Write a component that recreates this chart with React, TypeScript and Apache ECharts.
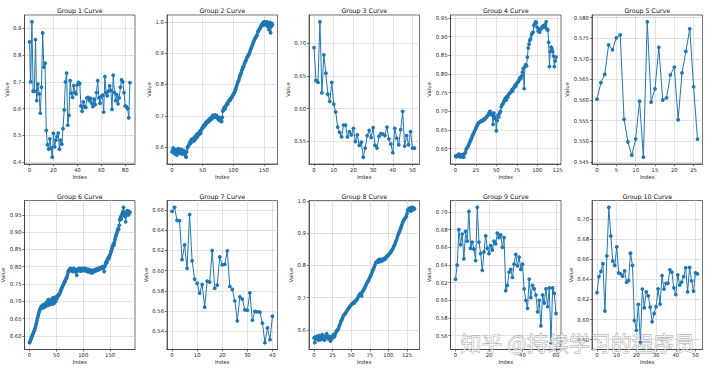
import React, { useEffect, useRef } from "react";
import * as echarts from "echarts";

const titles = [
  "Group 1 Curve", "Group 2 Curve", "Group 3 Curve", "Group 4 Curve", "Group 5 Curve",
  "Group 6 Curve", "Group 7 Curve", "Group 8 Curve", "Group 9 Curve", "Group 10 Curve",
];

const group1 = [
  0.85, 0.7, 0.925, 0.665, 0.665, 0.858, 0.63, 0.692, 0.655, 0.583, 0.68, 0.883, 0.755, 0.77, 0.518,
  0.465, 0.448, 0.487, 0.452, 0.418, 0.507, 0.457, 0.482, 0.495, 0.508, 0.448, 0.482, 0.467, 0.525,
  0.595, 0.7, 0.733, 0.538, 0.575, 0.705, 0.657, 0.642, 0.686, 0.66, 0.655, 0.689, 0.698, 0.694, 0.61,
  0.59, 0.625, 0.607, 0.605, 0.64, 0.642, 0.63, 0.638, 0.62, 0.608, 0.635, 0.615, 0.66, 0.705, 0.64,
  0.62, 0.645, 0.65, 0.587, 0.72, 0.66, 0.648, 0.665, 0.685, 0.668, 0.597, 0.725, 0.66, 0.63, 0.652,
  0.618, 0.64, 0.68, 0.707, 0.7, 0.66, 0.61, 0.607, 0.6, 0.565, 0.697,
];

const group2 = [
  0.585, 0.59, 0.598, 0.582, 0.587, 0.578, 0.592, 0.585, 0.575, 0.588, 0.595, 0.583, 0.59, 0.58, 0.586,
  0.593, 0.585, 0.578, 0.583, 0.59, 0.586, 0.58, 0.572, 0.568, 0.585,
  0.598, 0.602, 0.605, 0.61, 0.615, 0.612, 0.62, 0.625, 0.618, 0.622, 0.628, 0.62, 0.632, 0.625, 0.635,
  0.64, 0.632, 0.638, 0.645, 0.64, 0.648, 0.652, 0.645, 0.655, 0.66,
  0.662, 0.668, 0.665, 0.672, 0.67, 0.678, 0.675, 0.68, 0.684, 0.68, 0.686, 0.69, 0.685, 0.692, 0.695,
  0.69, 0.698, 0.702, 0.697, 0.7, 0.695, 0.703, 0.698, 0.7, 0.695,
  0.69, 0.688, 0.695, 0.685, 0.692, 0.688, 0.682, 0.695, 0.715, 0.72,
  0.725, 0.728, 0.722, 0.732, 0.735, 0.74, 0.738, 0.745, 0.748, 0.752, 0.75, 0.755, 0.758, 0.76, 0.765,
  0.768, 0.772, 0.775, 0.78,
  0.785, 0.792, 0.798, 0.805, 0.81, 0.815, 0.822, 0.828, 0.832, 0.838, 0.845, 0.85, 0.855, 0.858, 0.865,
  0.87, 0.875, 0.878, 0.884, 0.888, 0.892, 0.895, 0.898, 0.903, 0.91, 0.915, 0.92, 0.925, 0.93, 0.935,
  0.94, 0.945, 0.948, 0.952, 0.955, 0.958,
  0.968, 0.97, 0.975, 0.978, 0.98, 0.985, 0.99, 0.988, 0.995, 0.998, 0.99, 1.0, 0.995, 0.998, 0.99,
  1.0, 0.985, 0.995, 0.975, 0.99, 0.998, 0.965, 0.985, 0.995, 0.99,
];

const group3 = [
  0.693, 0.643, 0.64, 0.7325, 0.624, 0.682, 0.654, 0.622, 0.611, 0.64, 0.607, 0.595, 0.572, 0.564,
  0.557, 0.575, 0.575, 0.557, 0.565, 0.56, 0.57, 0.55, 0.56, 0.544, 0.549, 0.526, 0.54, 0.559, 0.567,
  0.556, 0.571, 0.544, 0.54, 0.558, 0.562, 0.561, 0.559, 0.572, 0.554, 0.546, 0.533, 0.57, 0.555,
  0.545, 0.568, 0.596, 0.543, 0.559, 0.545, 0.565, 0.54, 0.54,
];

const group4 = [
  0.58, 0.578, 0.582, 0.58, 0.585, 0.579, 0.583, 0.578, 0.584, 0.58, 0.577, 0.586,
  0.59, 0.598, 0.602, 0.605, 0.61, 0.615, 0.62, 0.625, 0.63, 0.636, 0.64, 0.645, 0.65,
  0.655, 0.66, 0.665, 0.668, 0.67, 0.672, 0.674, 0.673, 0.676, 0.678, 0.677, 0.68, 0.682, 0.685, 0.688,
  0.69, 0.695, 0.7, 0.698, 0.692, 0.69, 0.665, 0.695, 0.685, 0.68, 0.648, 0.675,
  0.69, 0.685, 0.695, 0.7, 0.712, 0.718, 0.72, 0.725, 0.73, 0.735, 0.73, 0.74, 0.738, 0.745,
  0.748, 0.75, 0.752, 0.758, 0.755, 0.762, 0.765, 0.77, 0.768, 0.775, 0.778, 0.78, 0.785, 0.79, 0.788,
  0.795, 0.805, 0.815,
  0.761,
  0.82, 0.825, 0.822, 0.845, 0.87, 0.88, 0.89, 0.895, 0.905, 0.91, 0.912, 0.93, 0.935, 0.94, 0.938,
  0.925, 0.915, 0.918, 0.912, 0.92, 0.922, 0.925, 0.928, 0.93, 0.926, 0.932, 0.94, 0.92, 0.918,
  0.885, 0.82, 0.86, 0.872, 0.868, 0.86, 0.848, 0.82, 0.835, 0.845,
];

const group5 = [
  0.5602, 0.5642, 0.5662, 0.5734, 0.5722, 0.5751, 0.5758, 0.5553, 0.5498, 0.5466, 0.5505, 0.5597,
  0.5461, 0.579, 0.5595, 0.5627, 0.5728, 0.56, 0.5605, 0.5661, 0.568, 0.5552, 0.5666, 0.5718, 0.5773,
  0.5632, 0.5505,
];

const group6 = [
  0.58, 0.584, 0.588, 0.592, 0.596, 0.6, 0.604, 0.608, 0.612, 0.616, 0.62, 0.625, 0.632, 0.638, 0.645,
  0.652, 0.658, 0.664, 0.67, 0.675, 0.678, 0.682, 0.685, 0.68, 0.688,
  0.686, 0.69, 0.682, 0.688, 0.692, 0.685, 0.695, 0.69, 0.698, 0.688, 0.705, 0.695, 0.69, 0.7, 0.693,
  0.702, 0.697, 0.708, 0.692, 0.7, 0.71, 0.695, 0.705, 0.712, 0.7,
  0.712, 0.708, 0.715, 0.718, 0.716, 0.72, 0.722, 0.725, 0.73, 0.735, 0.738, 0.742, 0.745, 0.748, 0.752,
  0.755, 0.758, 0.762, 0.765, 0.768, 0.772, 0.778, 0.785, 0.79, 0.788,
  0.792, 0.795, 0.79, 0.788, 0.793, 0.79, 0.786, 0.795, 0.79, 0.788, 0.792, 0.785, 0.79, 0.775, 0.788,
  0.792, 0.79, 0.795, 0.788, 0.79, 0.793, 0.787, 0.795, 0.79, 0.792,
  0.795, 0.79, 0.792, 0.788, 0.795, 0.79, 0.793, 0.788, 0.79, 0.785, 0.792, 0.788, 0.79, 0.786, 0.783,
  0.79, 0.785, 0.782, 0.788, 0.785, 0.79, 0.787, 0.79, 0.792, 0.788,
  0.79, 0.793, 0.79, 0.795, 0.792, 0.796, 0.793, 0.797, 0.795, 0.798, 0.796, 0.8, 0.795, 0.798, 0.786,
  0.8, 0.805, 0.81, 0.815, 0.812, 0.82, 0.825, 0.822, 0.83, 0.828,
  0.835, 0.84, 0.845, 0.85, 0.855, 0.86, 0.865, 0.862, 0.87, 0.878, 0.885, 0.89, 0.895, 0.9, 0.905,
  0.91, 0.908, 0.92, 0.935, 0.94, 0.945, 0.938, 0.95, 0.955, 0.96,
  0.972, 0.958, 0.95, 0.945, 0.93, 0.948, 0.955, 0.962, 0.958, 0.95, 0.96, 0.955, 0.958,
];

const group7 = [
  0.6587, 0.6627, 0.6497, 0.6494, 0.6109, 0.6255, 0.6023, 0.6554, 0.6096, 0.5917, 0.5874, 0.5778,
  0.5864, 0.5639, 0.5897, 0.5887, 0.6199, 0.5824, 0.5857, 0.6136, 0.6057, 0.6063, 0.6196, 0.5844,
  0.5814, 0.5702, 0.5503, 0.5741, 0.5718, 0.5612, 0.5609, 0.5781, 0.551, 0.5596, 0.5592, 0.5589,
  0.548, 0.5287, 0.5433, 0.5317, 0.5549,
];

const group8 = [
  0.575, 0.56, 0.578, 0.572, 0.58, 0.575, 0.568, 0.582, 0.576, 0.57, 0.578, 0.585, 0.572, 0.58, 0.568,
  0.575, 0.582, 0.588, 0.578, 0.572, 0.58, 0.575, 0.565, 0.578, 0.572,
  0.58, 0.585, 0.578, 0.582, 0.59, 0.595, 0.598, 0.6, 0.605, 0.612, 0.618, 0.625, 0.63, 0.635, 0.642,
  0.645, 0.648, 0.65, 0.655, 0.658, 0.662, 0.665, 0.668, 0.672, 0.675,
  0.678, 0.68, 0.682, 0.685, 0.683, 0.688, 0.69, 0.692, 0.695, 0.7, 0.705, 0.708, 0.712, 0.71, 0.705,
  0.718, 0.722, 0.725, 0.73, 0.735, 0.74, 0.745, 0.748, 0.752, 0.758,
  0.762, 0.768, 0.772, 0.778, 0.785, 0.79, 0.795, 0.802, 0.808, 0.81, 0.812, 0.815, 0.81, 0.818, 0.815,
  0.812, 0.818, 0.815, 0.82, 0.818, 0.822, 0.82, 0.825, 0.828, 0.83,
  0.832, 0.835, 0.838, 0.84, 0.845, 0.848, 0.852, 0.858, 0.862, 0.868, 0.875, 0.88, 0.888, 0.895, 0.9,
  0.905, 0.912, 0.918, 0.925, 0.932, 0.938, 0.942, 0.945, 0.948, 0.952,
  0.96, 0.97, 0.975, 0.972, 0.978, 0.968, 0.975, 0.98, 0.972, 0.978, 0.975,
];

const group9 = [
  0.624, 0.64, 0.68, 0.663, 0.675, 0.647, 0.678, 0.667, 0.7008, 0.659, 0.666, 0.658, 0.645, 0.7054,
  0.666, 0.653, 0.634, 0.655, 0.673, 0.659, 0.653, 0.662, 0.657, 0.667, 0.664, 0.676, 0.671, 0.674,
  0.66, 0.671, 0.611, 0.617, 0.632, 0.635, 0.626, 0.641, 0.652, 0.639, 0.649, 0.635, 0.641, 0.613,
  0.6, 0.591, 0.624, 0.603, 0.617, 0.613, 0.606, 0.587, 0.6, 0.571, 0.606, 0.597, 0.613, 0.593, 0.614,
  0.552, 0.614, 0.608, 0.585,
];

const group10 = [
  0.6268, 0.6426, 0.6477, 0.6554, 0.6084, 0.6631, 0.7114, 0.6829, 0.6581, 0.6537, 0.6721, 0.6463,
  0.6453, 0.643, 0.6483, 0.6369, 0.6386, 0.6658, 0.6537, 0.599, 0.5893, 0.6151, 0.577, 0.6302,
  0.6117, 0.6275, 0.6235, 0.6124, 0.5977, 0.606, 0.6128, 0.6305, 0.6154, 0.6436, 0.6302, 0.6359,
  0.6359, 0.6493, 0.647, 0.6315, 0.6248, 0.6443, 0.6342, 0.6372, 0.6426, 0.6513, 0.6275, 0.6517,
  0.6383, 0.6282, 0.6463, 0.6453,
];

const xTicks = [
  [0, 20, 40, 60, 80],
  [0, 50, 100, 150],
  [0, 10, 20, 30, 40, 50],
  [0, 25, 50, 75, 100, 125],
  [0, 5, 10, 15, 20, 25],
  [0, 50, 100, 150],
  [0, 10, 20, 30, 40],
  [0, 25, 50, 75, 100, 125],
  [0, 20, 40, 60],
  [0, 10, 20, 30, 40, 50],
];

const yTicks = [
  [0.4, 0.5, 0.6, 0.7, 0.8, 0.9],
  [0.6, 0.7, 0.8, 0.9, 1.0],
  [0.55, 0.6, 0.65, 0.7],
  [0.6, 0.65, 0.7, 0.75, 0.8, 0.85, 0.9, 0.95],
  [0.545, 0.55, 0.555, 0.56, 0.565, 0.57, 0.575, 0.58],
  [0.6, 0.65, 0.7, 0.75, 0.8, 0.85, 0.9, 0.95],
  [0.54, 0.56, 0.58, 0.6, 0.62, 0.64, 0.66],
  [0.6, 0.7, 0.8, 0.9, 1.0],
  [0.56, 0.58, 0.6, 0.62, 0.64, 0.66, 0.68, 0.7],
  [0.58, 0.6, 0.62, 0.64, 0.66, 0.68, 0.7],
];

const yDecimals = [1, 1, 2, 2, 3, 2, 2, 1, 2, 2];

const groups = [group1, group2, group3, group4, group5, group6, group7, group8, group9, group10];

const FONT = "DejaVu Sans";
const TXT = "#262626";
const BLUE = "#1f77b4";

function buildOption() {
  const colLeft = [24.5, 167, 309, 450.5, 592];
  const rowTop = [15, 200.5];
  const W = 110.5;
  const H = 149;
  const grid: any[] = [];
  const xAxis: any[] = [];
  const yAxis: any[] = [];
  const series: any[] = [];
  const title: any[] = [];

  groups.forEach((vals, i) => {
    const col = i % 5;
    const row = Math.floor(i / 5);
    const n = vals.length - 1;
    const vmin = Math.min(...vals);
    const vmax = Math.max(...vals);
    const span = vmax - vmin;
    const dec = yDecimals[i];
    grid.push({
      left: colLeft[col],
      top: rowTop[row],
      width: W,
      height: H,
      show: true,
      borderColor: "#333",
      borderWidth: 0.7,
      backgroundColor: "#fff",
      containLabel: false,
      outerBoundsMode: "none",
    });
    xAxis.push({
      type: "value",
      gridIndex: i,
      min: -0.05 * n,
      max: n * 1.05,
      name: "Index",
      nameLocation: "middle",
      nameGap: 10,
      nameTextStyle: { fontSize: 5.3, color: TXT, fontFamily: FONT },
      axisLine: { show: true, onZero: false, lineStyle: { color: "#333", width: 0.7 } },
      axisTick: { show: true, length: 2, customValues: xTicks[i], lineStyle: { color: "#333", width: 0.7 } },
      axisLabel: {
        customValues: xTicks[i],
        margin: 3,
        fontSize: 5.3,
        color: TXT,
        fontFamily: FONT,
        formatter: (v: number) => String(v),
      },
      splitLine: { show: true, lineStyle: { color: "#d6d6d6", width: 0.7 } },
    });
    yAxis.push({
      type: "value",
      gridIndex: i,
      min: vmin - 0.05 * span,
      max: vmax + 0.05 * span,
      name: "Value",
      nameLocation: "middle",
      nameGap: 15 + 3.4 * (dec - 1),
      nameTextStyle: { fontSize: 5.3, color: TXT, fontFamily: FONT },
      axisLine: { show: true, onZero: false, lineStyle: { color: "#333", width: 0.7 } },
      axisTick: { show: true, length: 2, customValues: yTicks[i], lineStyle: { color: "#333", width: 0.7 } },
      axisLabel: {
        customValues: yTicks[i],
        margin: 3,
        fontSize: 5.3,
        color: TXT,
        fontFamily: FONT,
        formatter: (v: number) => v.toFixed(dec),
      },
      splitLine: { show: true, lineStyle: { color: "#d6d6d6", width: 0.7 } },
    });
    series.push({
      type: "line",
      xAxisIndex: i,
      yAxisIndex: i,
      data: vals.map((v, j) => [j, v]),
      symbol: "circle",
      symbolSize: 3.8,
      itemStyle: { color: BLUE },
      lineStyle: { color: BLUE, width: 1 },
      silent: true,
      emphasis: { disabled: true },
    });
    title.push({
      text: titles[i],
      left: colLeft[col] + W / 2,
      top: rowTop[row] - 7.5,
      textAlign: "center",
      padding: 0,
      textStyle: { fontSize: 6.3, fontWeight: "normal", color: "#111", fontFamily: FONT },
    });
  });

  return {
    animation: false,
    backgroundColor: "#fff",
    title,
    grid,
    xAxis,
    yAxis,
    series,
    graphic: [
      {
        type: "text",
        left: 460,
        top: 331,
        z: 100,
        silent: true,
        style: {
          text: "知乎 @持续学习的程序员",
          fontSize: 21,
          fontFamily: "Noto Sans CJK SC",
          fill: "rgba(255,255,255,0.72)",
          stroke: "rgba(70,70,70,0.5)",
          lineWidth: 0.8,
        },
      },
    ],
  };
}

export default function App() {
  const ref = useRef<HTMLDivElement>(null);
  useEffect(() => {
    if (!ref.current) return;
    const chart = echarts.init(ref.current, null, { renderer: "svg" });
    chart.setOption(buildOption() as any);
    return () => chart.dispose();
  }, []);
  return (
    <div
      ref={ref}
      style={{ position: "fixed", left: 0, top: 0, width: 720, height: 373, background: "#fff" }}
    />
  );
}
